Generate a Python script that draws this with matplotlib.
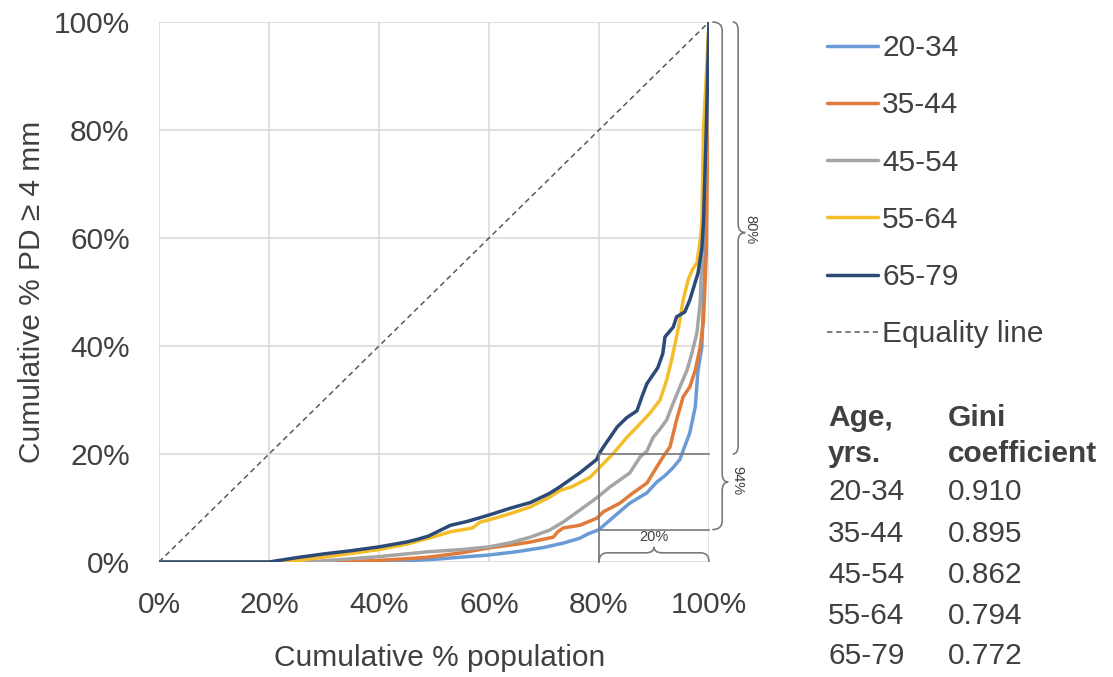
import numpy as np
import matplotlib
matplotlib.use("Agg")
import matplotlib.pyplot as plt
from matplotlib.path import Path
from matplotlib.patches import PathPatch
from matplotlib.lines import Line2D

plt.rcParams['font.family'] = ['Liberation Sans', 'DejaVu Sans']

# cumulative % population (x) and cumulative % PD >= 4 mm (y), per age group
x_2034 = [0, 40, 45, 50, 55, 60, 65, 70, 73.5, 76.5, 78, 80, 82.6, 85.6, 88.7, 90.5, 92, 93.5,
          94.7, 96.5, 97.5, 98, 98.7, 99.3, 100]
y_2034 = [0, 0, 0.2, 0.5, 0.9, 1.3, 1.9, 2.7, 3.5, 4.4, 5.2, 6.0, 8.3, 10.9, 12.8, 14.8, 16.0, 17.5,
          19.0, 23.9, 28.7, 35.5, 39.8, 57, 100]

x_3544 = [0, 33, 40, 45, 49, 55, 60, 65, 67.5, 71.7, 72.5, 73.5, 76.5, 79.6, 80.8, 83.8, 86.2, 88.7,
          90.5, 91.6, 92.9, 94.1, 95.3, 96.5, 97.5, 98.4, 99, 99.5, 100]
y_3544 = [0, 0, 0.3, 0.6, 0.9, 1.7, 2.6, 3.3, 3.7, 4.6, 5.6, 6.3, 6.8, 8.1, 9.3, 10.9, 12.8, 14.6,
          17.6, 19.4, 21.3, 26.3, 30.6, 32.4, 35.5, 39.8, 44.8, 57, 100]

x_4554 = [0, 27, 35, 40, 45, 49, 55, 60, 64, 67.5, 71, 73.5, 76.5, 79.6, 82, 83.8, 85.6, 87.5, 88.7,
          89.8, 91, 92.3, 93.2, 94.7, 96, 96.9, 97.8, 98.4, 98.7, 99.5, 100]
y_4554 = [0, 0, 0.6, 1.0, 1.5, 1.9, 2.3, 2.8, 3.6, 4.6, 5.9, 7.4, 9.6, 11.9, 13.9, 15.2, 16.5, 19.5, 20.5,
          23, 24.5, 26.3, 28.7, 32.4, 35.5, 38.7, 42.4, 48, 57, 75, 100]

x_5564 = [0, 23, 30, 35, 40, 45, 49, 53, 57, 58.4, 60, 64, 67.5, 71, 73, 75, 78.4, 80, 82.6, 85, 86.9,
          89.3, 91.1, 92.3, 93.2, 94.1, 94.7, 95.3, 96.2, 96.9, 97.8, 98.4, 98.7, 99, 99.5, 100]
y_5564 = [0, 0, 0.9, 1.6, 2.3, 3.3, 4.4, 5.6, 6.3, 7.4, 7.8, 9.0, 10.2, 12.0, 13.3, 13.9, 15.7, 17.4, 20.1,
          23, 25, 27.6, 30, 33.7, 37.4, 41.7, 44.8, 48.5, 52.2, 54, 55.4, 59.6, 63, 80, 90, 100]

x_6579 = [0, 20, 25, 30, 35, 40, 45, 47, 49, 51, 53, 56, 60, 64, 67.5, 71, 73, 76.5, 79.6, 80, 80.8, 83.3,
          85, 86.9, 87.8, 88.7, 90.7, 91.6, 92, 93.5, 94.1, 95.6, 96.5, 98, 98.7, 99, 99.5, 100]
y_6579 = [0, 0, 0.8, 1.5, 2.1, 2.8, 3.7, 4.2, 4.8, 5.8, 6.8, 7.5, 8.7, 10, 11, 12.7, 14, 16.5, 19, 20, 21.3, 25,
          26.7, 28, 30.6, 33, 36, 38.6, 41.7, 43.5, 45.4, 46.3, 48.5, 53.5, 58, 63, 80, 100]

groups = ['20-34', '35-44', '45-54', '55-64', '65-79']
gini = ['0.910', '0.895', '0.862', '0.794', '0.772']
colors = ['#6b9bd6', '#e07b39', '#a5a5a5', '#f4bd2a', '#2c4a78']
xs = [x_2034, x_3544, x_4554, x_5564, x_6579]
ys = [y_2034, y_3544, y_4554, y_5564, y_6579]
ticks = [0, 20, 40, 60, 80, 100]

txt = '#404040'
ann = '#7a7a7a'
fs = 21.5

fig = plt.figure(figsize=(11.13, 6.77), dpi=100)
ax = fig.add_axes([159/1113, 115/677, 550/1113, 540/677])

ax.plot([0, 100], [0, 100], color='#595959', lw=1.1, ls=(0, (3.5, 2.5)), zorder=2)
handles = []
for x, y, c, g in zip(xs, ys, colors, groups):
    h, = ax.plot(x, y, color=c, lw=2.5, solid_joinstyle='round', solid_capstyle='round', zorder=3, label=g)
    handles.append(h)
handles.append(Line2D([], [], color='#595959', lw=1.1, ls=(0, (3.5, 2.5))))

ax.set_xlim(0, 100)
ax.set_ylim(0, 100)
ax.set_xticks(ticks)
ax.set_yticks(ticks)
ax.set_xticklabels([f'{t}%' for t in ticks])
ax.set_yticklabels([f'{t}%' for t in ticks])
ax.tick_params(length=0, labelsize=fs, labelcolor=txt, pad=21)
ax.grid(True, color='#d9d9d9', lw=1.1, zorder=0)
ax.set_axisbelow(True)
for s in ax.spines.values():
    s.set_visible(False)

ax.set_xlabel('Cumulative % population', fontsize=fs, color=txt)
ax.xaxis.set_label_coords(0.511, -0.152)
ax.set_ylabel('Cumulative % PD ≥ 4 mm', fontsize=fs, color=txt)
ax.yaxis.set_label_coords(-0.205, 0.5)

# annotation: top 20% of population
top = np.interp(80, x_6579, y_6579)
low = np.interp(80, x_2034, y_2034)
kw = dict(color=ann, lw=1.2, clip_on=False, zorder=4)
ax.plot([80, 80], [0, top], **kw)
ax.plot([80, 100], [top, top], **kw)
ax.plot([80, 100], [low, low], **kw)


def vbrace(xl, y0, y1, ym, c, p, r):
    verts = [(xl - c, y0), (xl, y0), (xl, y0 + r), (xl, ym - r), (xl, ym), (xl + p, ym),
             (xl, ym), (xl, ym + r), (xl, y1 - r), (xl, y1), (xl - c, y1)]
    codes = [Path.MOVETO, Path.CURVE3, Path.CURVE3, Path.LINETO, Path.CURVE3, Path.CURVE3,
             Path.CURVE3, Path.CURVE3, Path.LINETO, Path.CURVE3, Path.CURVE3]
    ax.add_patch(PathPatch(Path(verts, codes), fill=False, ec=ann, lw=1.2, clip_on=False))


def hbrace(x0, x1, xm, yb, yl, yp, r):
    verts = [(x0, yb), (x0, yl), (x0 + r, yl), (xm - r, yl), (xm, yl), (xm, yp),
             (xm, yl), (xm + r, yl), (x1 - r, yl), (x1, yl), (x1, yb)]
    codes = [Path.MOVETO, Path.CURVE3, Path.CURVE3, Path.LINETO, Path.CURVE3, Path.CURVE3,
             Path.CURVE3, Path.CURVE3, Path.LINETO, Path.CURVE3, Path.CURVE3]
    ax.add_patch(PathPatch(Path(verts, codes), fill=False, ec=ann, lw=1.2, clip_on=False))


vbrace(102.4, low, 100, 14.8, 1.8, 1.1, 1.6)
vbrace(105.3, top, 100, 61, 1.0, 1.3, 1.6)
hbrace(80, 100, 90, 0, 1.7, 2.8, 1.5)
ax.text(107.6, 61.5, '80%', rotation=270, fontsize=10.5, color=txt, ha='center', va='center', clip_on=False)
ax.text(105.1, 15, '94%', rotation=270, fontsize=10.5, color=txt, ha='center', va='center', clip_on=False)
ax.text(90, 4.7, '20%', fontsize=10.5, color=txt, ha='center', va='center')

fig.legend(handles, groups + ['Equality line'], loc='upper left',
           bbox_to_anchor=(827/1113, 1 - 34/677), frameon=False, fontsize=fs,
           handlelength=1.7, handletextpad=0.15, labelspacing=0.98,
           borderpad=0, borderaxespad=0, labelcolor=txt)

# Gini table
col1, col2 = 828/1113, 948/1113
rows_y = [426, 462, 500, 542, 583, 624, 664]
fig.text(col1, 1 - rows_y[0]/677, 'Age,', fontsize=fs, color=txt, weight='bold', va='baseline')
fig.text(col1, 1 - rows_y[1]/677, 'yrs.', fontsize=fs, color=txt, weight='bold', va='baseline')
fig.text(col2, 1 - rows_y[0]/677, 'Gini', fontsize=fs, color=txt, weight='bold', va='baseline')
fig.text(col2, 1 - rows_y[1]/677, 'coefficient', fontsize=fs, color=txt, weight='bold', va='baseline')
for yy, g, v in zip(rows_y[2:], groups, gini):
    fig.text(col1, 1 - yy/677, g, fontsize=fs, color=txt, va='baseline')
    fig.text(col2, 1 - yy/677, v, fontsize=fs, color=txt, va='baseline')

fig.savefig('out.png', dpi=100)
